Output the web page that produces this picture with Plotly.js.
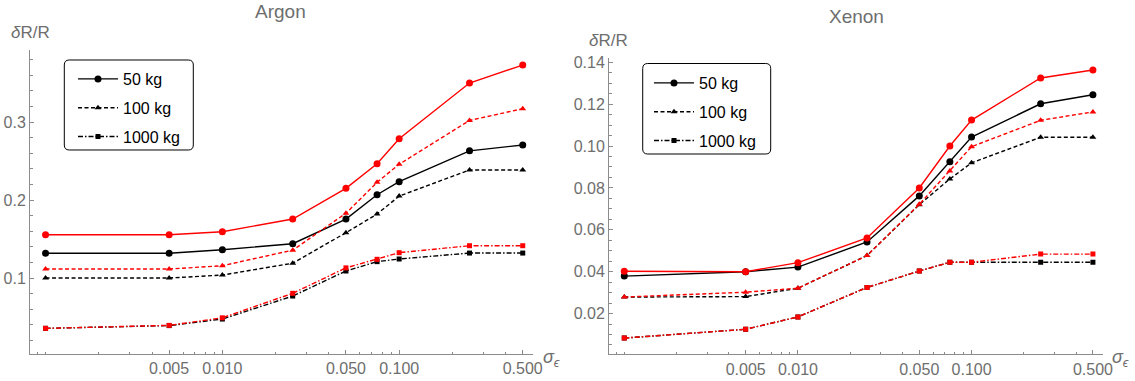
<!DOCTYPE html>
<html>
<head>
<meta charset="utf-8">
<script src="https://cdn.plot.ly/plotly-3.0.1.min.js"></script>
<style>html,body{margin:0;padding:0;background:#fff;}#chart{width:1135px;height:381px;}</style>
</head>
<body>
<div id="chart"></div>
<script>
// sigma_epsilon values
const sigma = [0.001, 0.005, 0.01, 0.025, 0.05, 0.075, 0.1, 0.25, 0.5];

// Argon (dR/R)
const ar50Red    = [0.1555, 0.1555, 0.1594, 0.1756, 0.215, 0.2465, 0.2786, 0.350, 0.373];
const ar50Black  = [0.1317, 0.1317, 0.1363, 0.144, 0.1756, 0.2068, 0.2235, 0.263, 0.2705];
const ar100Red   = [0.1115, 0.1115, 0.1158, 0.1357, 0.183, 0.2227, 0.2458, 0.302, 0.317];
const ar100Black = [0.100, 0.100, 0.1038, 0.119, 0.158, 0.182, 0.205, 0.2385, 0.2385];
const ar1000Red  = [0.0355, 0.0393, 0.049, 0.0804, 0.113, 0.124, 0.1325, 0.1414, 0.1414];
const ar1000Black= [0.0355, 0.039, 0.0474, 0.0769, 0.109, 0.121, 0.1244, 0.132, 0.132];

// Xenon (dR/R)
const xe50Red    = [0.0402, 0.040, 0.0443, 0.0561, 0.080, 0.100, 0.1124, 0.1325, 0.1363];
const xe50Black  = [0.0379, 0.040, 0.0422, 0.0542, 0.0762, 0.0925, 0.1043, 0.1202, 0.1245];
const xe100Red   = [0.0279, 0.0302, 0.0321, 0.0477, 0.0722, 0.0881, 0.0997, 0.1123, 0.1163];
const xe100Black = [0.0279, 0.0281, 0.0321, 0.0477, 0.072, 0.0843, 0.092, 0.1042, 0.1042];
const xe1000Red  = [0.0083, 0.0125, 0.0184, 0.0325, 0.0403, 0.0445, 0.0445, 0.0484, 0.0484];
const xe1000Black= [0.0083, 0.0125, 0.0184, 0.0325, 0.0403, 0.0445, 0.0445, 0.0445, 0.0445];

const seriesNames = ['50 kg', '100 kg', '1000 kg'];
const xTickVals = [0.005, 0.01, 0.05, 0.1, 0.5];
const xTickText = ['0.005', '0.010', '0.050', '0.100', '0.500'];
const xMinorVals = [0.0008, 0.0009, 0.001, 0.002, 0.003, 0.004, 0.006, 0.007, 0.008, 0.009,
                    0.02, 0.03, 0.04, 0.06, 0.07, 0.08, 0.09, 0.2, 0.3, 0.4];

const W = 1135, H = 381;
const FONT = 'Liberation Sans, Arial, sans-serif';
const GRAY = '#6e6e6e';
const AXC = '#8c8c8c';

const styles = [
  {dash: 'solid', symbol: 'circle', size: 7},
  {dash: '4px,2.5px', symbol: 'triangle-up', size: 6},
  {dash: '5px,2px,1.5px,2px', symbol: 'square', size: 5}
];

function mk(y, idx, color, xa, ya, legendName, show) {
  const s = styles[idx];
  return {
    x: sigma, y: y, type: 'scatter', mode: 'lines+markers',
    xaxis: xa, yaxis: ya,
    name: seriesNames[idx], showlegend: show, legend: legendName,
    legendgroup: legendName + idx,
    line: {color: color, width: 1.4, dash: s.dash},
    marker: {color: color, symbol: s.symbol, size: s.size}
  };
}

const traces = [
  mk(ar50Black, 0, 'black', 'x', 'y', 'legend', true),
  mk(ar100Black, 1, 'black', 'x', 'y', 'legend', true),
  mk(ar1000Black, 2, 'black', 'x', 'y', 'legend', true),
  mk(ar50Red, 0, 'red', 'x', 'y', 'legend', false),
  mk(ar100Red, 1, 'red', 'x', 'y', 'legend', false),
  mk(ar1000Red, 2, 'red', 'x', 'y', 'legend', false),
  mk(xe50Black, 0, 'black', 'x2', 'y2', 'legend2', true),
  mk(xe100Black, 1, 'black', 'x2', 'y2', 'legend2', true),
  mk(xe1000Black, 2, 'black', 'x2', 'y2', 'legend2', true),
  mk(xe50Red, 0, 'red', 'x2', 'y2', 'legend2', false),
  mk(xe100Red, 1, 'red', 'x2', 'y2', 'legend2', false),
  mk(xe1000Red, 2, 'red', 'x2', 'y2', 'legend2', false)
];

function xAxis(d0, d1, anchor) {
  return {
    type: 'log', domain: [d0 / W, d1 / W], range: [-3.088, -0.243], anchor: anchor,
    showgrid: false, zeroline: false, showline: true, linecolor: AXC, linewidth: 1,
    ticks: 'inside', ticklen: 4, tickcolor: AXC, tickwidth: 1,
    tickmode: 'array', tickvals: xTickVals, ticktext: xTickText,
    tickfont: {family: FONT, size: 16, color: GRAY},
    minor: {tickmode: 'array', tickvals: xMinorVals, ticks: 'inside', ticklen: 2.5, tickcolor: AXC, showgrid: false}
  };
}
function yAxis(top, bottom, range, dtick, mdtick, fmt, anchor) {
  return {
    domain: [(H - bottom) / H, (H - top) / H], range: range, anchor: anchor,
    showgrid: false, zeroline: false, showline: true, linecolor: AXC, linewidth: 1,
    ticks: 'inside', ticklen: 4, tickcolor: AXC, tickwidth: 1,
    tick0: 0, dtick: dtick, tickformat: fmt,
    tickfont: {family: FONT, size: 16, color: GRAY},
    minor: {tick0: 0, dtick: mdtick, ticks: 'inside', ticklen: 2.5, tickcolor: AXC, showgrid: false}
  };
}

function roundRect(x0, y0, x1, y1, r) {
  const X = v => (v / W).toFixed(5), Y = v => (1 - v / H).toFixed(5);
  return 'M' + X(x0 + r) + ',' + Y(y0) + ' L' + X(x1 - r) + ',' + Y(y0) +
    ' Q' + X(x1) + ',' + Y(y0) + ' ' + X(x1) + ',' + Y(y0 + r) +
    ' L' + X(x1) + ',' + Y(y1 - r) +
    ' Q' + X(x1) + ',' + Y(y1) + ' ' + X(x1 - r) + ',' + Y(y1) +
    ' L' + X(x0 + r) + ',' + Y(y1) +
    ' Q' + X(x0) + ',' + Y(y1) + ' ' + X(x0) + ',' + Y(y1 - r) +
    ' L' + X(x0) + ',' + Y(y0 + r) +
    ' Q' + X(x0) + ',' + Y(y0) + ' ' + X(x0 + r) + ',' + Y(y0) + ' Z';
}

function legendCfg(xpx, ypx) {
  return {
    x: xpx / W, y: 1 - ypx / H, xanchor: 'left', yanchor: 'top',
    bgcolor: 'rgba(0,0,0,0)', borderwidth: 0,
    font: {family: FONT, size: 16, color: 'black'},
    traceorder: 'grouped', tracegroupgap: 5, itemwidth: 40
  };
}

const ann = (text, xpx, ypx, size, color, xanchor) => ({
  text: text, x: xpx / W, y: 1 - ypx / H, xref: 'paper', yref: 'paper',
  xanchor: xanchor || 'center', yanchor: 'middle', showarrow: false,
  font: {family: FONT, size: size, color: color}
});

const layout = {
  width: W, height: H, margin: {l: 0, r: 0, t: 0, b: 0},
  paper_bgcolor: 'white', plot_bgcolor: 'white',
  xaxis: xAxis(30, 533, 'y'),
  yaxis: yAxis(50, 354, [0.0026, 0.3923], 0.1, 0.02, '.1f', 'x'),
  xaxis2: xAxis(609, 1103, 'y2'),
  yaxis2: yAxis(58, 354.3, [0.00055, 0.14205], 0.02, 0.005, '.2f', 'x2'),
  legend: legendCfg(73, 62),
  legend2: legendCfg(649, 66),
  shapes: [
    {type: 'path', xref: 'paper', yref: 'paper', path: roundRect(64.3, 60, 193.3, 150, 5), line: {color: 'black', width: 1}},
    {type: 'path', xref: 'paper', yref: 'paper', path: roundRect(642.7, 63.5, 770.7, 154, 5), line: {color: 'black', width: 1}}
  ],
  annotations: [
    ann('Argon', 280, 12, 19, GRAY),
    ann('Xenon', 856, 17, 19, GRAY),
    ann('<i>δ</i>R/R', 30, 33, 17, GRAY),
    ann('<i>δ</i>R/R', 608, 40, 17, GRAY),
    ann('<i>σ</i><sub><i>ϵ</i></sub>', 541, 358, 18, GRAY, 'left'),
    ann('<i>σ</i><sub><i>ϵ</i></sub>', 1110, 358, 18, GRAY, 'left')
  ]
};

Plotly.newPlot('chart', traces, layout, {staticPlot: true, displayModeBar: false});
</script>
</body>
</html>
